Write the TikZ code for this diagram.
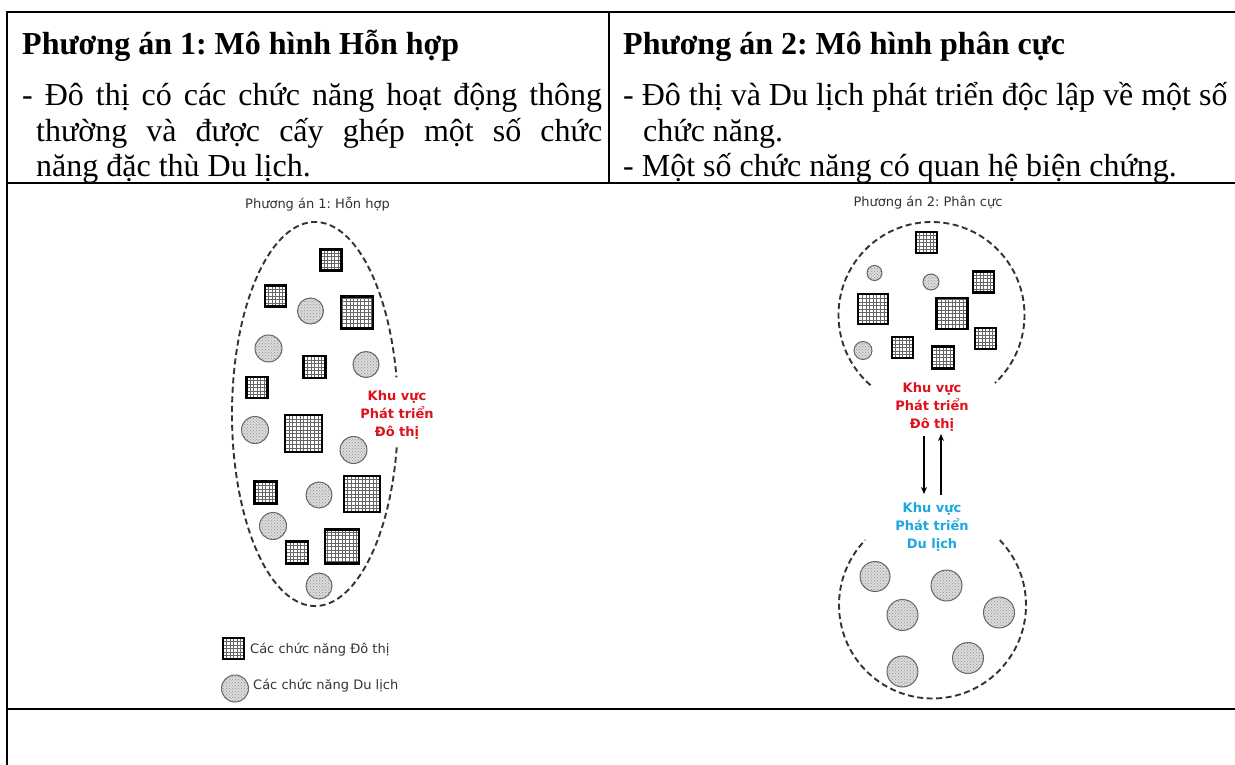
\documentclass[tikz,border=0pt]{standalone}
\usepackage{fontspec}
\setmainfont{Liberation Serif}
\newfontfamily\labfont{DejaVu Sans}
\usetikzlibrary{patterns,arrows.meta,calc}
\definecolor{kred}{RGB}{222,18,28}
\definecolor{kblue}{RGB}{28,166,226}
\definecolor{labgray}{RGB}{50,50,50}
\frenchspacing
\tikzset{
  rule/.style={line width=2pt,line cap=rect},
  hd/.style={inner sep=0pt,anchor=base west,font=\fontsize{32}{35.5}\selectfont\bfseries},
  bd/.style={inner sep=0pt,anchor=base west,font=\fontsize{32}{35.5}\selectfont},
  lab/.style={inner sep=0pt,text=labgray,font=\labfont\fontsize{13}{16}\selectfont},
  zone/.style={inner sep=2pt,align=center,font=\labfont\bfseries\fontsize{13}{18}\selectfont},
  usq/.style={draw=black,line width=2.2pt,fill=white,inner sep=0pt,
    path picture={\draw[line width=0.45pt,black!60] (path picture bounding box.south west) grid[step=3.6pt] (path picture bounding box.north east);}},
  ucirc/.style={circle,draw=black!60,line width=1pt,inner sep=0pt,
    preaction={fill=gray!28},pattern=crosshatch dots,pattern color=gray!85},
  dsh/.style={draw=black!80,line width=1.9pt,dash pattern=on 6pt off 3.5pt},
  arr/.style={-{Stealth[length=7pt,width=6pt]},line width=1.1pt}
}
\begin{document}
\begin{tikzpicture}[x=1pt,y=-1pt]
\useasboundingbox (0,0) rectangle (1235,765);
% table rules
\draw[rule] (7,12) -- (1240,12);
\draw[rule] (7,12) -- (7,770);
\draw[rule] (609,12) -- (609,183);
\draw[line width=2.2pt] (7,183) -- (1240,183);
\draw[line width=2.6pt] (7,709) -- (1240,709);
% header texts
\node[hd] (t1) at (22,55) {Phương án 1: Mô hình Hỗn hợp};
\node[bd] (l1a) at (22,106) {\makebox[580pt][s]{- Đô thị có các chức năng hoạt động thông}};
\node[bd] (l1b) at (36,141.5) {\makebox[566pt][s]{thường và được cấy ghép một số chức}};
\node[bd] (l1c) at (36,177) {năng đặc thù Du lịch.};
\node[hd] (t2) at (623,55) {Phương án 2: Mô hình phân cực};
\node[bd] (r1a) at (623,106) {- Đô thị và Du lịch phát triển độc lập về một số};
\node[bd] (r1b) at (643,141.5) {chức năng.};
\node[bd] (r1c) at (623,177) {- Một số chức năng có quan hệ biện chứng.};
% diagram 1
\node[lab] (p1) at (317.5,204) {Phương án 1: Hỗn hợp};
\coordinate (c1) at (315,414);
\draw[dsh] ($(c1)+(10:83 and 192)$) arc[start angle=10,end angle=349,x radius=83,y radius=192];
\foreach \px/\py/\ps [count=\i] in {331/260/21,275.5/296/21,357/312.5/32,314.5/367/22,257/387.5/21,303.5/433.5/37,265.5/492.5/22,362/494/36,297/552.5/22,342/546.5/34}
  \node[usq,minimum size=\ps pt] (sa\i) at (\px,\py) {};
\foreach \px/\py/\pr [count=\i] in {310.5/311/13,268.5/348.5/13.5,366/364.5/13,255/430/13.5,353.5/450/13.5,319/495/13,273/526/13.5,319/586/13}
  \node[ucirc,minimum size=2*\pr pt] (ca\i) at (\px,\py) {};
\node[zone,text=kred] (k1) at (397,414.5) {Khu vực\\Phát triển\\Đô thị};
% legend
\node[usq,minimum size=21pt] (lgs) at (233.5,648.5) {};
\node[lab,anchor=west] (lgst) at (250,650) {Các chức năng Đô thị};
\node[ucirc,minimum size=27pt] (lgc) at (235,688.5) {};
\node[lab,anchor=west] (lgct) at (253,686) {Các chức năng Du lịch};
% diagram 2
\node[lab] (p2) at (928,203) {Phương án 2: Phân cực};
\coordinate (c2) at (931.5,315);
\draw[dsh] ($(c2)+(131:93)$) arc[start angle=131,end angle=407,radius=93];
\coordinate (c3) at (932.5,605);
\draw[dsh] ($(c3)+(-44:93.5)$) arc[start angle=-44,end angle=224,radius=93.5];
\foreach \px/\py/\ps [count=\i] in {926.5/242.5/21,983.5/282/21,873/309/30,952/313.5/31,985.5/338.5/21,902.5/347.5/21,943/357.5/22}
  \node[usq,minimum size=\ps pt] (sb\i) at (\px,\py) {};
\foreach \px/\py/\pr [count=\i] in {874.5/273/7.5,931/282/8,863/350.5/9}
  \node[ucirc,minimum size=2*\pr pt] (cb\i) at (\px,\py) {};
\foreach \px/\py/\pr [count=\i] in {875/576.5/15,946.5/585.5/15.5,902.5/615/15.5,999/612.5/15.5,968/658/15.5,902.5/671.5/15.5}
  \node[ucirc,minimum size=2*\pr pt] (cc\i) at (\px,\py) {};
\node[zone,text=kred] (k2) at (932,406.5) {Khu vực\\Phát triển\\Đô thị};
\node[zone,text=kblue] (k3) at (932,526.5) {Khu vực\\Phát triển\\Du lịch};
\draw[arr,shorten <=3pt,shorten >=6pt] ([xshift=-8pt]k2.south) -- ([xshift=-8pt]k3.north);
\draw[arr,shorten <=5pt,shorten >=1pt] ([xshift=9pt]k3.north) -- ([xshift=9pt]k2.south);
\end{tikzpicture}
\end{document}
